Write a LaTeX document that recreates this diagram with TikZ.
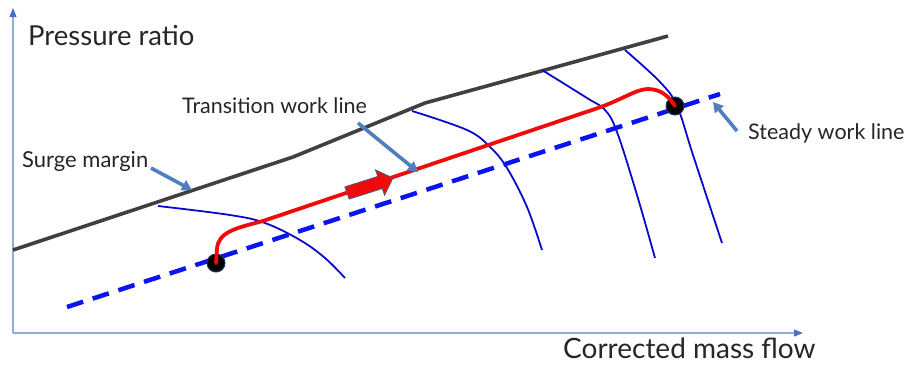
\documentclass[tikz,border=0pt]{standalone}
\usepackage{fontspec}
\setmainfont{Lato}
\usetikzlibrary{arrows.meta}
\definecolor{axisblue}{HTML}{8FAADC}
\definecolor{axishead}{HTML}{4472C4}
\definecolor{callout}{HTML}{4F7FC0}
\definecolor{surgegray}{HTML}{404040}
\definecolor{speedblue}{HTML}{0A0ACD}
\definecolor{dashblue}{HTML}{0A14F0}
\definecolor{redline}{HTML}{F00A0A}
\definecolor{dotrim}{HTML}{1F3864}
\tikzset{
  axis/.style={draw=axisblue, line width=1.3pt, -{Triangle[length=9pt,width=7pt,fill=axishead,color=axishead]}},
  callarrow/.style={draw=callout, line width=3.6pt, -{Triangle[length=10pt,width=11pt]}},
  surge/.style={draw=surgegray, line width=3.6pt, line join=round},
  speed/.style={draw=speedblue, line width=1.8pt},
  steady/.style={draw=dashblue, line width=4.5pt, dash pattern=on 17pt off 10pt},
  transline/.style={draw=redline, line width=3.8pt, line cap=round},
  dotnode/.style={circle, fill=black, draw=dotrim, line width=1pt, minimum size=18pt, inner sep=0pt},
  bigarrow/.style={fill=redline, draw=dotrim!80, line width=0.8pt, line join=miter},
  lbl/.style={anchor=base west, inner sep=0pt, text=black!85},
}
\begin{document}
\begin{tikzpicture}[x=1pt,y=-1pt]
\useasboundingbox (0,0) rectangle (909,365);
% axes
\coordinate (O) at (13,333);
\coordinate (Ytip) at (13,8);
\coordinate (Xtip) at (803,333);
\draw[axis] (O) -- (Ytip);
\draw[axis] (O) -- (Xtip);
\node[lbl, font=\fontsize{27.5}{27.5}\selectfont] (ylab) at (28,45) {Pressure ratio};
\node[lbl, font=\fontsize{28}{28}\selectfont] (xlab) at (563,358) {Corrected mass flow};
% surge line
\draw[surge] (13,250) -- (293,157) -- (425,103) -- (545,70) -- (668,36);
% speed lines
\draw[speed] plot[smooth, tension=0.6] coordinates {(158,206) (230,215) (265,223) (300,240) (325,258) (345,278)};
\draw[speed] plot[smooth, tension=0.6] coordinates {(412,111) (467,130) (490,147) (507,168) (527,207) (542,250)};
\draw[speed] plot[smooth, tension=0.6] coordinates {(542,70) (587,98) (605,110) (617,132) (637,195) (655,258)};
\draw[speed] plot[smooth, tension=0.6] coordinates {(625,50) (660,82) (677,106) (693,155) (722,243)};
% steady line
\draw[steady] (67,307) -- (720,94);
% dots
\node[dotnode] (A) at (216,263) {};
\node[dotnode] (B) at (675,106) {};
% transition line
\draw[transline] (A.center) -- (217,249) .. controls (218,232) and (236,228) .. (263,221) -- (595,109) .. controls (622,100) and (636,89) .. (648,89) .. controls (662,89) and (670,98) .. (B.center);
% big red arrow
\draw[bigarrow] (349.2,199.1) -- (344.8,186.9) -- (377.8,176.4) -- (375.4,169.8) -- (393,178) -- (384.6,195.2) -- (382.2,188.6) -- cycle;
% labels
\node[lbl, font=\fontsize{21.5}{21.5}\selectfont] (tlab) at (182,113) {Transition work line};
\node[lbl, font=\fontsize{22}{22}\selectfont] (slab) at (22,167) {Surge margin};
\node[lbl, font=\fontsize{21.5}{21.5}\selectfont] (wlab) at (748,139) {Steady work line};
% callouts
\coordinate (s1) at (151,168);
\coordinate (s2) at (192,190);
\coordinate (t1) at (358,123);
\coordinate (t2) at (418,172);
\coordinate (w1) at (737,131);
\coordinate (w2) at (713,102);
\draw[callarrow] (s1) -- (s2);
\draw[callarrow] (t1) -- (t2);
\draw[callarrow] (w1) -- (w2);
\end{tikzpicture}
\end{document}
